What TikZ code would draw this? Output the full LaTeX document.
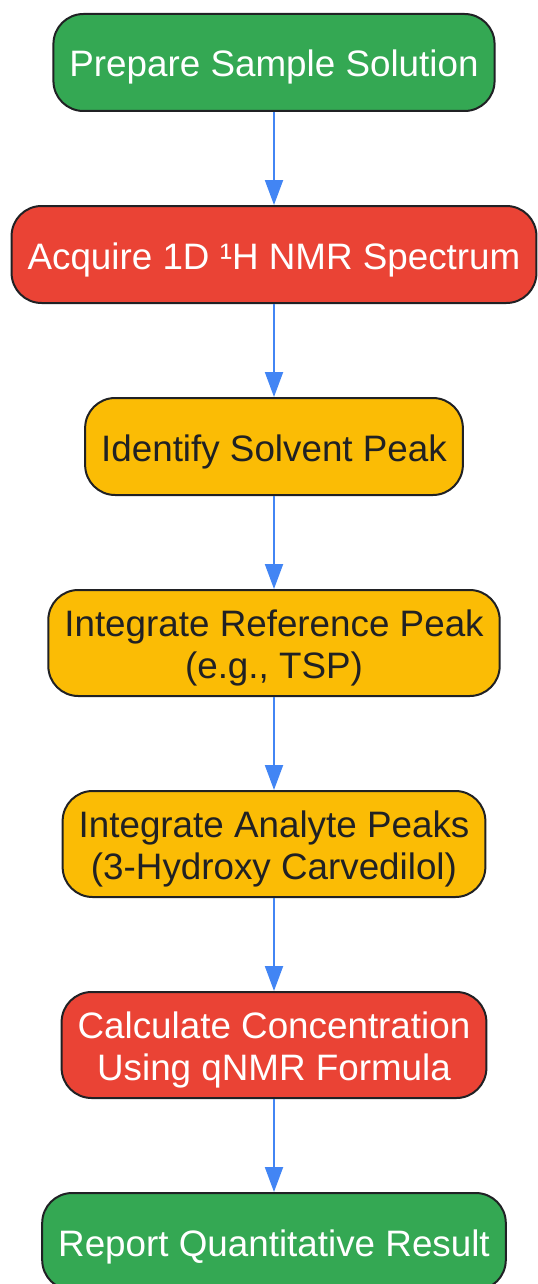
\documentclass[tikz,border=0pt]{standalone}
\usepackage{fontspec}
\setmainfont{Liberation Sans}
\usetikzlibrary{arrows.meta,positioning}
\definecolor{stepgreen}{HTML}{34A853}
\definecolor{stepred}{HTML}{EA4335}
\definecolor{stepyellow}{HTML}{FBBC05}
\definecolor{flowblue}{HTML}{4285F4}
\definecolor{edgedark}{HTML}{202124}

\begin{document}
\begin{tikzpicture}[node distance=46.5pt]
\tikzstyle{block}=[rectangle, rounded corners=15pt, line width=1pt,
	draw=edgedark, inner xsep=8pt, inner ysep=5pt, minimum height=48.5pt,
	text height=17pt, text depth=2.5pt,
	align=center, font=\fontsize{18.4}{20.7}\selectfont
]
\tikzstyle{twoline}=[text height=37.7pt, minimum height=53pt]
\tikzstyle{flow}=[-{Triangle[length=12.5pt,width=9pt]}, line width=1pt, color=flowblue]
\useasboundingbox (0,0) rectangle (268.5pt,-642pt);
\node[block,fill=stepgreen,text=white] (prep) at (137pt,-31.25pt) {Prepare Sample Solution};
\node[below=of prep,block,fill=stepred,text=white] (acq) {Acquire 1D ¹H NMR Spectrum};
\node[below=of acq,block,fill=stepyellow,text=edgedark] (solv) {Identify Solvent Peak};
\node[below=of solv,block,twoline,fill=stepyellow,text=edgedark] (ref) {Integrate Reference Peak\\(e.g., TSP)};
\node[below=of ref,block,twoline,fill=stepyellow,text=edgedark] (ana) {Integrate Analyte Peaks\\(3-Hydroxy Carvedilol)};
\node[below=of ana,block,twoline,fill=stepred,text=white] (calc) {Calculate Concentration\\Using qNMR Formula};
\node[below=of calc,block,fill=stepgreen,text=white] (rep) {Report Quantitative Result};
\path[flow] (prep) edge (acq) ;
\path[flow] (acq) edge (solv) ;
\path[flow] (solv) edge (ref) ;
\path[flow] (ref) edge (ana) ;
\path[flow] (ana) edge (calc) ;
\path[flow] (calc) edge (rep) ;

\end{tikzpicture}
\end{document}
